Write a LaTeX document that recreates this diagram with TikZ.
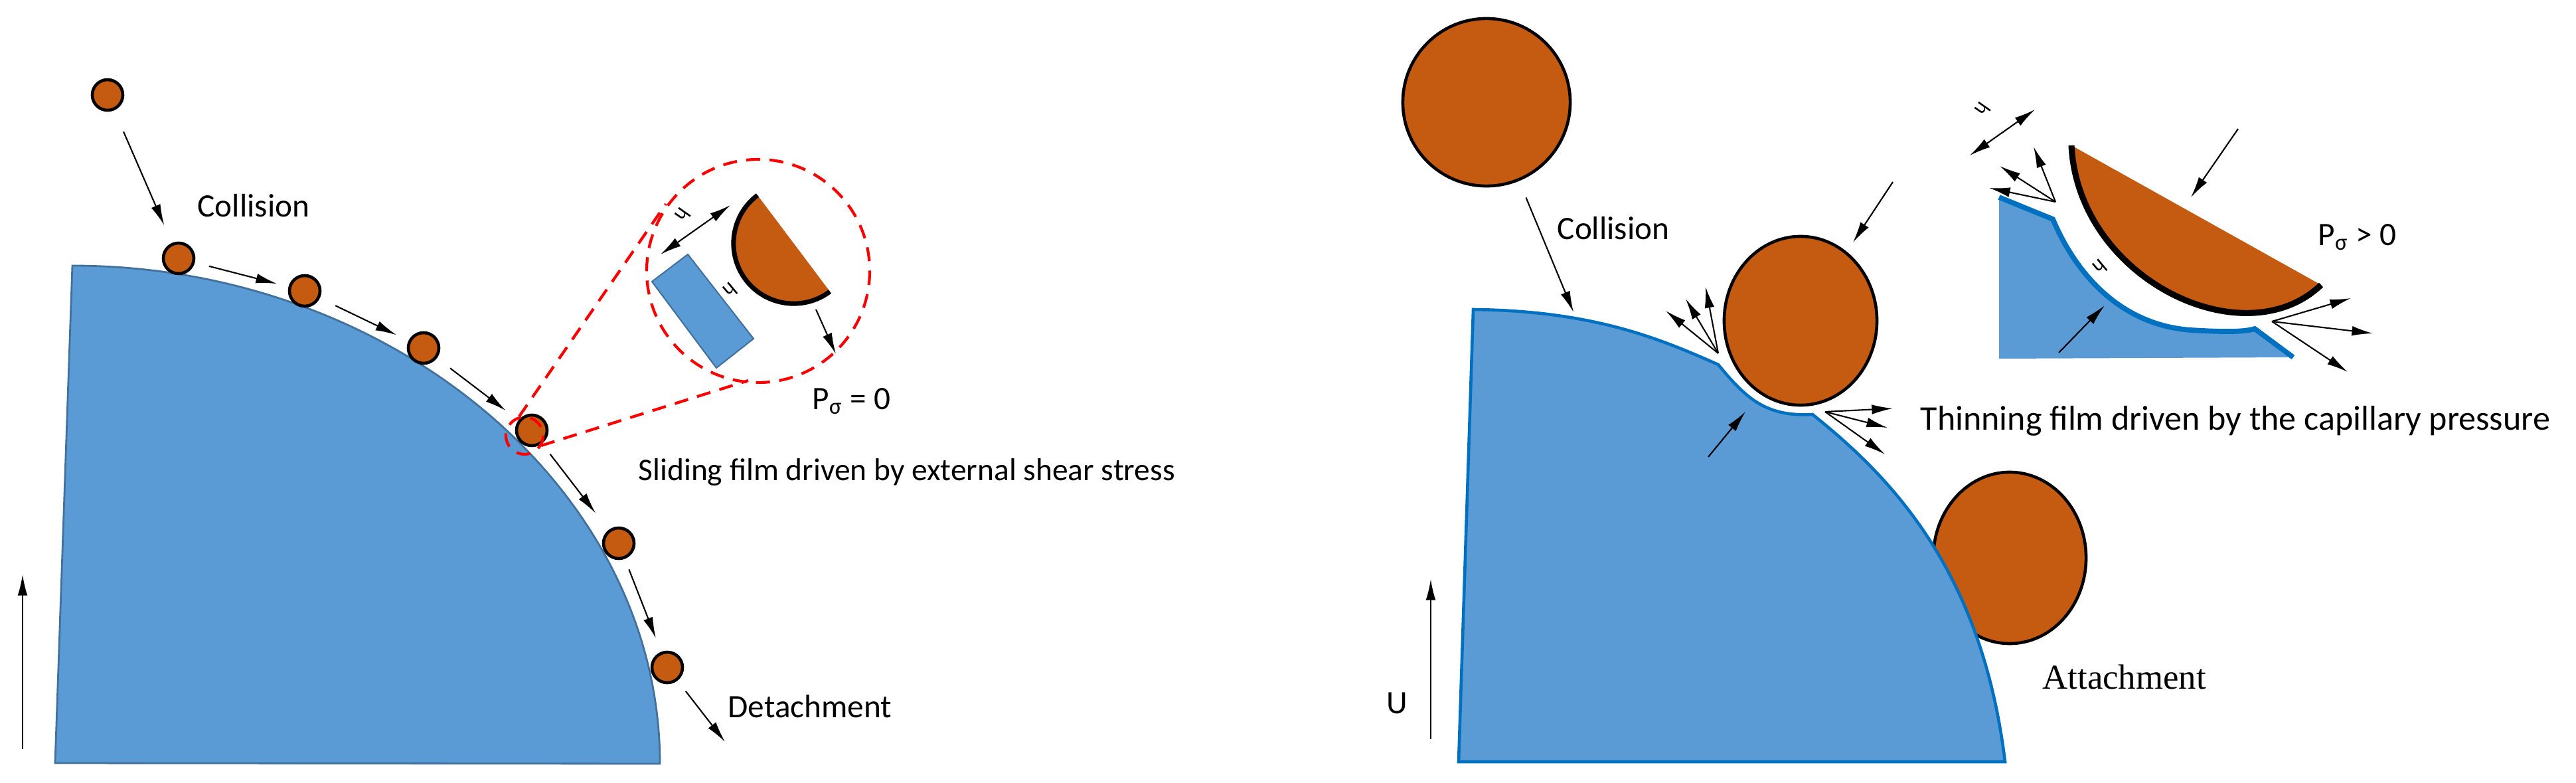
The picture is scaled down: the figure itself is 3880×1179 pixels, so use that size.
\documentclass[tikz,border=0pt]{standalone}
\usepackage{fontspec}
\setmainfont{Carlito}
\newfontfamily\attfont{Liberation Serif}
\usetikzlibrary{arrows.meta,shapes.geometric}
\definecolor{ore}{HTML}{C55A11}
\definecolor{bluef}{HTML}{5B9BD5}
\definecolor{bluel}{HTML}{41719C}
\definecolor{bluer}{HTML}{0070C0}

\begin{document}
\begin{tikzpicture}[x=0.01cm,y=-0.01cm,
    pt/.style={circle,draw,fill=ore,line width=1.3pt,minimum size=0.46cm,inner sep=0},
    blob/.style={ellipse,draw,fill=ore,line width=1.3pt,inner sep=0},
    arr/.style={-{Latex[length=9pt,width=4.2pt]},line width=0.6pt},
    darr/.style={{Latex[length=9pt,width=4.2pt]}-{Latex[length=9pt,width=4.2pt]},line width=0.6pt},
    dsh/.style={red,dash pattern=on 6pt off 4pt,line width=1.2pt},
    lbl/.style={font=\fontsize{14}{16}\selectfont,inner sep=0},
    hh/.style={font=\fontsize{9}{10}\selectfont,inner sep=0}]
\useasboundingbox (0,0) rectangle (3880,1179);

% left: sliding
\draw[fill=bluef,draw=bluel,line width=0.8pt] (109,400) .. controls (588,400) and (994,736) .. (994,1150) -- (83,1149) -- cycle;
\node[pt] (p1) at (162,143) {};
\node[pt] (p2) at (269,389) {};
\node[pt] (p3) at (459,438) {};
\node[pt] (p4) at (638,524) {};
\node[pt] (p5) at (801,648) {};
\node[pt] (p6) at (932,818) {};
\node[pt] (p7) at (1005,1005) {};
\coordinate (de) at (1092,1117);
\draw[arr,shorten <=0.35cm,shorten >=0.29cm] (p1) -- (p2);
\draw[arr,shorten <=0.22cm,shorten >=0.18cm] (p2) -- (p3);
\draw[arr,shorten <=0.26cm,shorten >=0.2cm] (p3) -- (p4);
\draw[arr,shorten <=0.25cm,shorten >=0.24cm] (p4) -- (p5);
\draw[arr,shorten <=0.2cm,shorten >=0.32cm] (p5) -- (p6);
\draw[arr,shorten <=0.17cm,shorten >=0.22cm] (p6) -- (p7);
\draw[arr,shorten <=0.2cm] (p7) -- (de);
\coordinate (u1) at (34,1128);
\coordinate (u2) at (34,865);
\draw[arr] (u1) -- (u2);
\node[lbl] (col1) at (382,310) {Collision};
\node[lbl,anchor=west,font=\fontsize{13.5}{16}\selectfont] (sl) at (961,711) {Sliding film driven by external shear stress};
\node[lbl,anchor=west] (det) at (1096,1064) {Detachment};

% left inset
\draw[dsh] (790,656) circle[radius=28];
\draw[dsh] (1142,408) circle[radius=168];
\draw[dsh] (782,627) -- (1003,307);
\draw[dsh] (815,671) -- (1127,573);
\draw[fill=bluef,draw=bluel,line width=0.6pt] (982,424) -- (1036,383) -- (1135,510) -- (1079,554) -- cycle;
\fill[ore] (1141,294) -- (1250,439) .. controls (1210,469) and (1153,461) .. (1123,421) .. controls (1093,381) and (1101,324) .. (1141,294);
\draw[line width=2pt] (1250,439) .. controls (1210,469) and (1153,461) .. (1123,421) .. controls (1093,381) and (1101,324) .. (1141,294);
\coordinate (h1) at (995,383);
\coordinate (h2) at (1100,309);
\draw[darr] (h1) -- (h2);
\node[hh,rotate=-125] at (1029,324) {h};
\node[hh,rotate=-140] at (1100,437) {h};
\coordinate (s1) at (1229,466);
\coordinate (s2) at (1259,533);
\draw[arr] (s1) -- (s2);
\node[lbl,anchor=west] (ps0) at (1223,604) {P\textsubscript{σ} = 0};

% right: thinning
\node[blob,minimum width=2.3cm,minimum height=2.58cm] (q3) at (3027,840) {};
\draw[fill=bluef,draw=bluer,line width=1.3pt] (2219,466) .. controls (2400,468) and (2500,510) .. (2588,549)
  .. controls (2630,600) and (2660,628) .. (2730,624)
  .. controls (2850,720) and (2985,860) .. (3020,1147) -- (2197,1147) -- cycle;
\node[circle,draw,fill=ore,line width=1.3pt,minimum size=2.52cm,inner sep=0] (q1) at (2239,154) {};
\node[blob,minimum width=2.3cm,minimum height=2.54cm] (q2) at (2712,483) {};
\coordinate (cr) at (2370,470);
\draw[arr,shorten <=0.27cm] (q1) -- (cr);
\coordinate (t1) at (2851,274);
\coordinate (t2) at (2791,365);
\draw[arr] (t1) -- (t2);
\coordinate (b1) at (2573,688);
\coordinate (b2) at (2629,620);
\draw[arr] (b1) -- (b2);
\coordinate (f1) at (2588,532);
\foreach \t in {(2509,468),(2539,450),(2569,432)}
  \draw[arr] (f1) -- \t;
\coordinate (f2) at (2749,620);
\foreach \t in {(2851,615),(2843,644),(2839,684)}
  \draw[arr] (f2) -- \t;
\coordinate (v1) at (2155,1113);
\coordinate (v2) at (2155,872);
\draw[arr] (v1) -- (v2);
\node[lbl] (uu) at (2104,1059) {U};
\node[lbl] (col2) at (2430,344) {Collision};
\node[lbl,anchor=west,font=\fontsize{14.8}{17}\selectfont] (th) at (2892,634) {Thinning film driven by the capillary pressure};
\node[lbl,anchor=west,font=\attfont\fontsize{15}{17}\selectfont] (att) at (3076,1019) {Attachment};

% right inset
\fill[bluef] (3011,297) -- (3092,330) .. controls (3130,420) and (3200,490) .. (3300,497)
  .. controls (3350,500) and (3380,500) .. (3396,495) -- (3454,538) -- (3011,540) -- cycle;
\draw[bluer,line width=2.2pt] (3011,297) -- (3092,330) .. controls (3130,420) and (3200,490) .. (3300,497)
  .. controls (3350,500) and (3380,500) .. (3396,495) -- (3454,538);
\fill[ore] (3120,219) -- (3496,429) .. controls (3380,540) and (3130,420) .. (3120,219);
\draw[line width=2.6pt] (3496,429) .. controls (3380,540) and (3130,420) .. (3120,219);
\coordinate (r1) at (3371,194);
\coordinate (r2) at (3300,297);
\draw[arr] (r1) -- (r2);
\coordinate (r3) at (3101,531);
\coordinate (r4) at (3170,460);
\draw[arr] (r3) -- (r4);
\coordinate (h3) at (2967,234);
\coordinate (h4) at (3065,165);
\draw[darr] (h3) -- (h4);
\node[hh,rotate=-125] at (2987,165) {h};
\node[hh,rotate=-140] at (3163,402) {h};
\coordinate (f3) at (3096,304);
\foreach \t in {(2996,283),(3012,250),(3063,221)}
  \draw[arr] (f3) -- \t;
\coordinate (f4) at (3422,484);
\foreach \t in {(3541,449),(3574,502),(3536,560)}
  \draw[arr] (f4) -- \t;
\node[lbl,anchor=west] (ps1) at (3491,357) {P\textsubscript{σ} > 0};
\end{tikzpicture}
\end{document}
